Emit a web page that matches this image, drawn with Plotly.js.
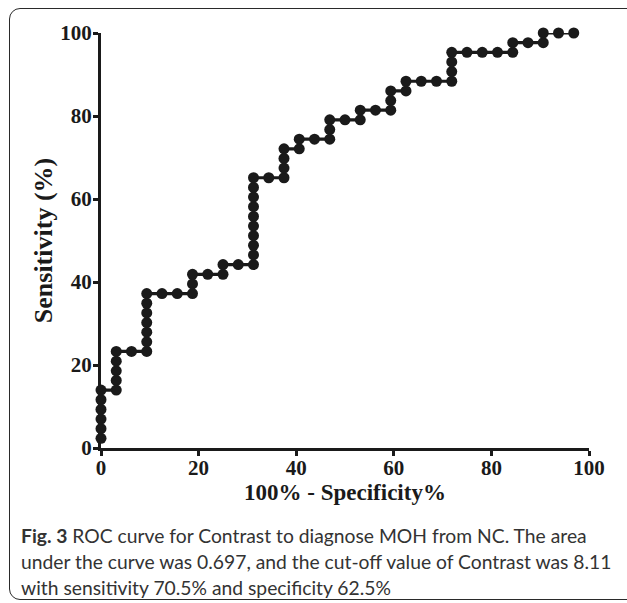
<!DOCTYPE html>
<html>
<head>
<meta charset="utf-8">
<script src="https://cdn.plot.ly/plotly-3.0.1.min.js"></script>
<style>
  html, body { margin: 0; padding: 0; background: #fff; }
  #wrap { position: relative; width: 627px; height: 603px; overflow: hidden; }
  #frame { position: absolute; left: 9px; top: 8px; width: 700px; height: 592px;
           border: 1.5px solid #2a2a2a; border-radius: 11px; box-sizing: border-box; }
  #chart { position: absolute; left: 0; top: 0; width: 627px; height: 603px; }
</style>
</head>
<body>
<div id="wrap">
  <div id="frame"></div>
  <div id="chart"></div>
</div>
<script>
// 100% - Specificity% (x) and Sensitivity (%) (y) for each ROC point
const fpr = [
  0, 0, 0, 0, 0, 0,
  3.125, 3.125, 3.125, 3.125, 3.125,
  6.25,
  9.375, 9.375, 9.375, 9.375, 9.375, 9.375, 9.375,
  12.5, 15.625,
  18.75, 18.75, 18.75,
  21.875,
  25, 25,
  28.125,
  31.25, 31.25, 31.25, 31.25, 31.25, 31.25, 31.25, 31.25, 31.25, 31.25,
  34.375,
  37.5, 37.5, 37.5, 37.5,
  40.625, 40.625,
  43.75,
  46.875, 46.875, 46.875,
  50,
  53.125, 53.125,
  56.25,
  59.375, 59.375, 59.375,
  62.5, 62.5,
  65.625, 68.75,
  71.875, 71.875, 71.875, 71.875,
  75, 78.125, 81.25,
  84.375, 84.375,
  87.5,
  90.625, 90.625,
  93.75, 96.875
];
const sensitivity = [
  2.33, 4.65, 6.98, 9.30, 11.63, 13.95,
  13.95, 16.28, 18.60, 20.93, 23.26,
  23.26,
  23.26, 25.58, 27.91, 30.23, 32.56, 34.88, 37.21,
  37.21, 37.21,
  37.21, 39.53, 41.86,
  41.86,
  41.86, 44.19,
  44.19,
  44.19, 46.51, 48.84, 51.16, 53.49, 55.81, 58.14, 60.47, 62.79, 65.12,
  65.12,
  65.12, 67.44, 69.77, 72.09,
  72.09, 74.42,
  74.42,
  74.42, 76.74, 79.07,
  79.07,
  79.07, 81.40,
  81.40,
  81.40, 83.72, 86.05,
  86.05, 88.37,
  88.37, 88.37,
  88.37, 90.70, 93.02, 95.35,
  95.35, 95.35, 95.35,
  95.35, 97.67,
  97.67,
  97.67, 100,
  100, 100
];
const tickVals = [0, 20, 40, 60, 80, 100];
const tickText = ['0', '20', '40', '60', '80', '100'];
const xTitle = '100% - Specificity%';
const yTitle = 'Sensitivity (%)';
const captionLines = [
  '<b>Fig. 3</b> ROC curve for Contrast to diagnose MOH from NC. The area',
  'under the curve was 0.697, and the cut-off value of Contrast was 8.11',
  'with sensitivity 70.5% and specificity 62.5%'
];

const ink = '#1a1a1a';
const serif = 'Liberation Serif, Times New Roman, serif';

const trace = {
  x: fpr, y: sensitivity, type: 'scatter', mode: 'lines+markers',
  line: { color: ink, width: 3.2 },
  marker: { color: ink, size: 11 },
  cliponaxis: false, hoverinfo: 'skip', showlegend: false
};

const W = 627, H = 603;
const margin = { l: 101, r: 38, t: 33, b: 155, pad: 0 };
const plotH = H - margin.t - margin.b;
const captionY = [535, 561, 587];

const annotations = captionLines.map((t, i) => ({
  text: t, xref: 'paper', yref: 'paper',
  x: (19 - margin.l) / (W - margin.l - margin.r),
  y: (H - margin.b - captionY[i]) / plotH,
  xanchor: 'left', yanchor: 'middle', showarrow: false,
  font: { family: 'Lato, Open Sans, sans-serif', size: 19.3, color: '#333' }
}));

const axisCommon = {
  range: [0, 100], autorange: false, showgrid: false, zeroline: false,
  showline: true, linecolor: ink, linewidth: 3,
  ticks: 'outside', ticklen: 5, tickwidth: 3, tickcolor: ink,
  tickmode: 'array', tickvals: tickVals, ticktext: tickText,
  tickfont: { family: serif, size: 21, color: ink, weight: 'bold' },
  fixedrange: true
};

const layout = {
  width: W, height: H, margin: margin,
  paper_bgcolor: 'rgba(0,0,0,0)', plot_bgcolor: 'rgba(0,0,0,0)',
  xaxis: Object.assign({}, axisCommon, {
    ticklabelstandoff: -6,
    title: { text: xTitle, font: { family: serif, size: 23, color: ink, weight: 'bold' }, standoff: 4 }
  }),
  yaxis: Object.assign({}, axisCommon, {
    ticklabelstandoff: -3,
    title: { text: yTitle, font: { family: serif, size: 26, color: ink, weight: 'bold' }, standoff: 1 }
  }),
  annotations: annotations,
  showlegend: false
};

Plotly.newPlot('chart', [trace], layout, { displayModeBar: false, staticPlot: true });
</script>
</body>
</html>
